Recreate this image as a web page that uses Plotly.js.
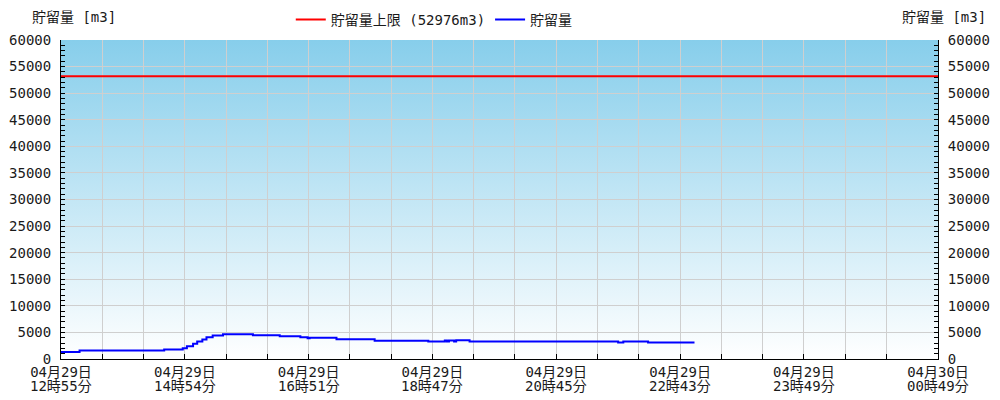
<!DOCTYPE html>
<html>
<head>
<meta charset="utf-8">
<script src="https://cdn.plot.ly/plotly-3.0.1.min.js"></script>
<style>html,body{margin:0;padding:0;background:#fff;}#chart{width:1000px;height:400px;}</style>
</head>
<body>
<div id="chart"></div>
<script>
// ---- data ----
var sampleIdx = [0, 1, 18, 100, 118, 122, 128, 132, 137, 141, 147, 157, 186, 212, 232, 239, 241, 267, 304, 356, 372, 374, 376, 381, 383, 396, 540, 545, 569, 614];
var storage   = [1200, 1300, 1600, 1800, 2000, 2400, 2850, 3300, 3650, 4100, 4400, 4650, 4450, 4300, 4100, 3900, 4000, 3700, 3450, 3300, 3500, 3300, 3500, 3300, 3550, 3300, 3100, 3300, 3100, 3100];
var limitValue = 53200;
var limitLabel = "貯留量上限 (52976m3)";
var seriesLabel = "貯留量";
var axisTitle = "貯留量 [m3]";
var xRange = [0, 850];
var xTickVals = [0, 40, 80, 120, 160, 200, 240, 280, 320, 360, 400, 440, 480, 520, 560, 600, 640, 680, 720, 760, 800, 850];
var labelVals = [0, 120, 240, 360, 480, 600, 720, 850];
var labelDates = ["04月29日", "04月29日", "04月29日", "04月29日", "04月29日", "04月29日", "04月29日", "04月30日"];
var labelTimes = ["12時55分", "14時54分", "16時51分", "18時47分", "20時45分", "22時43分", "23時49分", "00時49分"];
var yRange = [0, 60000];

var FONT = "DejaVu Sans Mono, Noto Sans CJK JP, monospace";
var FS = 14;
var TXT = '#1a1a1a';

var xTickText = xTickVals.map(function (v) {
  var i = labelVals.indexOf(v);
  return i >= 0 ? labelDates[i] : '';
});

var svg = '<svg xmlns="http://www.w3.org/2000/svg" width="100" height="100" preserveAspectRatio="none">' +
  '<defs><linearGradient id="g" x1="0" y1="0" x2="0" y2="1">' +
  '<stop offset="0" stop-color="#87CEEB"/><stop offset="1" stop-color="#ffffff"/></linearGradient></defs>' +
  '<rect width="100" height="100" fill="url(#g)"/></svg>';
var bgSrc = 'data:image/svg+xml;charset=utf-8,' + encodeURIComponent(svg);

var traces = [
  {
    x: xRange, y: [limitValue, limitValue], type: 'scatter', mode: 'lines',
    name: limitLabel, line: {color: '#ff0000', width: 2}, hoverinfo: 'skip'
  },
  {
    x: sampleIdx, y: storage, type: 'scatter', mode: 'lines',
    name: seriesLabel, line: {color: '#0000ff', width: 2, shape: 'hv'}
  },
  {
    x: xRange, y: [limitValue, limitValue], yaxis: 'y2', type: 'scatter', mode: 'lines',
    showlegend: false, line: {color: 'rgba(0,0,0,0)', width: 0}, hoverinfo: 'skip'
  }
];

var yCommon = {
  range: yRange, tick0: 0, dtick: 5000, tickformat: 'd',
  ticks: 'inside', ticklen: 4, tickcolor: '#000', tickwidth: 1,
  showline: true, linecolor: '#000', linewidth: 1,
  zeroline: false, ticklabelstandoff: 6,
  minor: {dtick: 1000, ticks: 'inside', ticklen: 4, tickcolor: '#000', showgrid: false},
  tickfont: {family: FONT, size: FS, color: TXT},
  fixedrange: true
};

var annotations = [
  {text: axisTitle, xref: 'paper', yref: 'paper', x: -0.0353, y: 1.072, xanchor: 'left', yanchor: 'middle', showarrow: false, font: {family: FONT, size: FS, color: TXT}},
  {text: axisTitle, xref: 'paper', yref: 'paper', x: 1.057, y: 1.072, xanchor: 'right', yanchor: 'middle', showarrow: false, font: {family: FONT, size: FS, color: TXT}}
];
labelVals.forEach(function (v, i) {
  annotations.push({
    text: labelTimes[i], xref: 'x', yref: 'paper', x: v, y: -0.0855,
    xanchor: 'center', yanchor: 'middle', showarrow: false, borderpad: 0,
    font: {family: FONT, size: FS, color: TXT}
  });
});

var layout = {
  width: 1000, height: 400,
  margin: {l: 61, r: 62, t: 40, b: 41, pad: 0, autoexpand: false},
  paper_bgcolor: '#ffffff',
  plot_bgcolor: 'rgba(0,0,0,0)',
  font: {family: FONT, size: FS, color: TXT},
  showlegend: true,
  legend: {
    orientation: 'h', x: 0.262, xanchor: 'left', y: 1.063, yanchor: 'middle',
    bgcolor: 'rgba(0,0,0,0)', font: {family: FONT, size: FS, color: TXT},
    itemwidth: 30
  },
  xaxis: {
    range: xRange, tickmode: 'array', tickvals: xTickVals, ticktext: xTickText,
    ticks: 'inside', ticklen: 5, tickcolor: '#000',
    showline: true, linecolor: '#000', linewidth: 1,
    showgrid: true, gridcolor: '#cfcfcf', gridwidth: 1, zeroline: false,
    tickfont: {family: FONT, size: FS, color: TXT}, tickangle: 0,
    ticklabelstandoff: 0,
    fixedrange: true
  },
  yaxis: Object.assign({}, yCommon, {side: 'left', showgrid: true, gridcolor: '#cfcfcf'}),
  yaxis2: Object.assign({}, yCommon, {side: 'right', overlaying: 'y', showgrid: false}),
  images: [{
    source: bgSrc, xref: 'paper', yref: 'paper', x: 0, y: 1, sizex: 1, sizey: 1,
    sizing: 'stretch', layer: 'below', xanchor: 'left', yanchor: 'top'
  }],
  annotations: annotations
};

Plotly.newPlot('chart', traces, layout, {displayModeBar: false, staticPlot: true});
</script>
</body>
</html>
